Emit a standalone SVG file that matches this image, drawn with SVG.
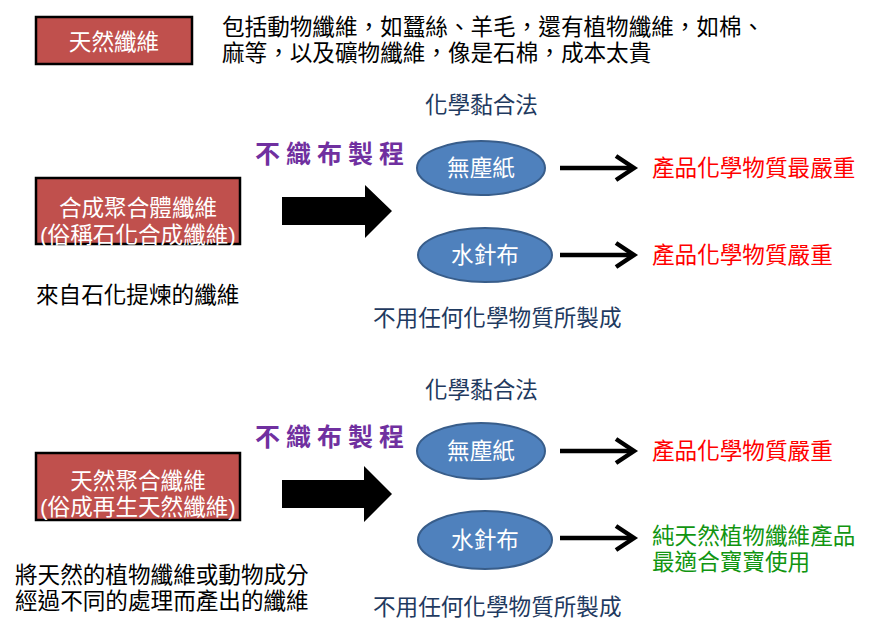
<svg xmlns="http://www.w3.org/2000/svg" width="872" height="636" viewBox="0 0 872 636">
<defs>
<style>
text{font-family:"Liberation Sans","Noto Sans CJK TC","Noto Sans CJK SC",sans-serif;font-size:22.6px}
.box{fill:#C0504D;stroke:#000;stroke-width:2.5}
.bt{fill:#fff;text-anchor:middle}
.ell{fill:#4F81BD;stroke:#385D8A;stroke-width:2}
.et{fill:#fff;text-anchor:middle}
.blk{fill:#000}
.navy{fill:#1F3A60}
.proc{fill:#7030A0;font-weight:bold;font-size:25px;letter-spacing:6px}
.red{fill:#FF0000}
.green{fill:#119511}
.conn line,.conn polyline{stroke:#000;stroke-width:4.5;fill:none}
</style>
</defs>
<rect width="872" height="636" fill="#fff"/>

<g id="natural-fiber">
<rect class="box" x="36" y="17" width="156" height="47"/>
<text class="bt" x="114" y="50">天然纖維</text>
</g>
<g id="natural-desc">
<text class="blk" x="222" y="35">包括動物纖維，如蠶絲、羊毛，還有植物纖維，如棉、</text>
<text class="blk" x="222" y="61">麻等，以及礦物纖維，像是石棉，成本太貴</text>
</g>

<!-- Section 1 -->
<g id="synthetic">
<rect class="box" x="36" y="178" width="204" height="66"/>
<text class="bt" x="138" y="216">合成聚合體纖維</text>
<text class="bt" x="138" y="243">(俗稱石化合成纖維)</text>
</g>
<text class="blk" x="36" y="303">來自石化提煉的纖維</text>
<text class="proc" x="255" y="163">不織布製程</text>
<g id="block-arrow-1"><polygon class="blk" points="282,197 365,197 365,185 392,211 365,238 365,225 282,225"/></g>
<text class="navy" x="425" y="113">化學黏合法</text>
<g id="dustfree-1">
<ellipse class="ell" cx="481" cy="168" rx="64" ry="27"/>
<text class="et" x="481" y="176">無塵紙</text>
</g>
<g id="spunlace-1">
<ellipse class="ell" cx="485" cy="255" rx="67" ry="27"/>
<text class="et" x="485" y="263">水針布</text>
</g>
<text class="navy" x="373" y="326">不用任何化學物質所製成</text>
<text class="red" x="652" y="176">產品化學物質最嚴重</text>
<text class="red" x="652" y="263">產品化學物質嚴重</text>

<!-- Section 2 -->
<g id="regenerated">
<rect class="box" x="36" y="453" width="204" height="67"/>
<text class="bt" x="138" y="489">天然聚合纖維</text>
<text class="bt" x="138" y="515">(俗成再生天然纖維)</text>
</g>
<text class="blk" x="15" y="583">將天然的植物纖維或動物成分</text>
<text class="blk" x="15" y="609">經過不同的處理而產出的纖維</text>
<text class="proc" x="255" y="446">不織布製程</text>
<g id="block-arrow-2"><polygon class="blk" points="282,480 364,480 364,466 392,494 364,522 364,508 282,508"/></g>
<text class="navy" x="425" y="398">化學黏合法</text>
<g id="dustfree-2">
<ellipse class="ell" cx="481" cy="451" rx="64" ry="28"/>
<text class="et" x="481" y="459">無塵紙</text>
</g>
<g id="spunlace-2">
<ellipse class="ell" cx="485" cy="540" rx="67" ry="29"/>
<text class="et" x="485" y="548">水針布</text>
</g>
<text class="navy" x="373" y="615">不用任何化學物質所製成</text>
<text class="red" x="652" y="459">產品化學物質嚴重</text>
<text class="green" x="652" y="544">純天然植物纖維產品</text>
<text class="green" x="652" y="570">最適合寶寶使用</text>

<g id="connectors" class="conn">
<line x1="560" y1="168" x2="633" y2="168"/><polyline points="616,156 634,168 616,180"/>
<line x1="560" y1="255" x2="633" y2="255"/><polyline points="616,243 634,255 616,267"/>
<line x1="560" y1="451" x2="633" y2="451"/><polyline points="616,439 634,451 616,463"/>
<line x1="560" y1="538" x2="633" y2="538"/><polyline points="616,526 634,538 616,550"/>
</g>
</svg>
